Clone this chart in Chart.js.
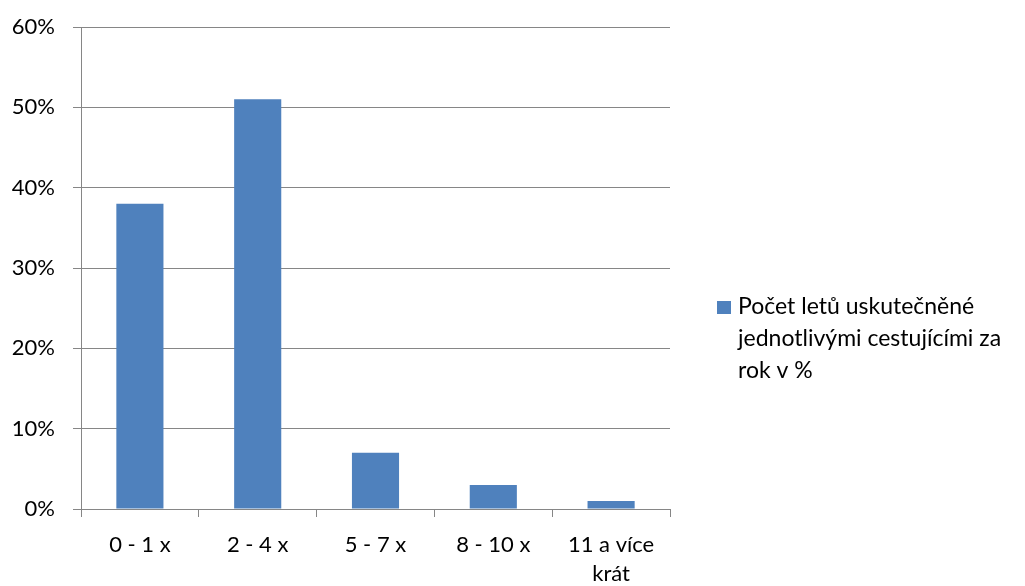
<!DOCTYPE html>
<html>
<head>
<meta charset="utf-8">
<script src="https://cdn.jsdelivr.net/npm/chart.js@4/dist/chart.umd.min.js"></script>
<style>
  html, body { margin: 0; padding: 0; background: #fff; }
  #wrap { width: 1025px; height: 586px; }
</style>
</head>
<body>
<div id="wrap"><canvas id="c" width="1025" height="586"></canvas></div>
<script>
const categories = ['0 - 1 x', '2 - 4 x', '5 - 7 x', '8 - 10 x', ['11 a více', 'krát']];
const values = [38, 51, 7, 3, 1];
const seriesLabel = ['Počet letů uskutečněné', 'jednotlivými cestujícími za', 'rok v %'];
const yTicks = [0, 10, 20, 30, 40, 50, 60];

const FONT = 'Lato, "Open Sans", sans-serif';
const AXIS = '#868686';
const BAR = '#4F81BD';

// Legend drawn to the right of the plot, with the series name wrapped over lines
const sideLegend = {
  id: 'sideLegend',
  afterDraw(chart) {
    const ctx = chart.ctx;
    const ds = chart.data.datasets[0];
    const x0 = chart.chartArea.right + 47;
    const y0 = 301;
    ctx.save();
    ctx.fillStyle = ds.backgroundColor;
    ctx.fillRect(x0, y0, 14, 13);
    ctx.fillStyle = '#000';
    ctx.font = '23px ' + FONT;
    ctx.textBaseline = 'middle';
    ctx.textAlign = 'left';
    ds.label.forEach((line, i) => {
      ctx.fillText(line, x0 + 21, y0 + 6 + i * 32);
    });
    ctx.restore();
  }
};

new Chart(document.getElementById('c'), {
  type: 'bar',
  data: {
    labels: categories,
    datasets: [{
      label: seriesLabel,
      data: values,
      backgroundColor: BAR,
      borderWidth: 0,
      barPercentage: 0.4,
      categoryPercentage: 1.0
    }]
  },
  options: {
    responsive: false,
    animation: false,
    layout: { padding: { top: 27, right: 355, left: 0, bottom: 0 } },
    plugins: { legend: { display: false }, tooltip: { enabled: false } },
    scales: {
      x: {
        offset: true,
        afterFit(scale) { scale.height = 77; },
        grid: {
          offset: true,
          drawOnChartArea: false,
          drawTicks: true,
          tickLength: 8,
          color: AXIS,
          lineWidth: 1
        },
        border: { display: true, color: AXIS, width: 1 },
        ticks: {
          color: '#000',
          padding: 13,
          maxRotation: 0,
          autoSkip: false,
          font: { family: FONT, size: 22, lineHeight: 1.32 }
        }
      },
      y: {
        min: 0,
        max: 60,
        afterFit(scale) {
          scale.width = 81;
          scale.paddingTop = 0;
          scale.paddingBottom = 0;
        },
        afterBuildTicks(scale) { scale.ticks = yTicks.map(v => ({ value: v })); },
        grid: {
          drawTicks: true,
          tickLength: 8,
          color: AXIS,
          lineWidth: 1
        },
        border: { display: true, color: AXIS, width: 1 },
        ticks: {
          color: '#000',
          padding: 18,
          font: { family: FONT, size: 22 },
          callback: v => v + '%'
        }
      }
    }
  },
  plugins: [sideLegend]
});
</script>
</body>
</html>
